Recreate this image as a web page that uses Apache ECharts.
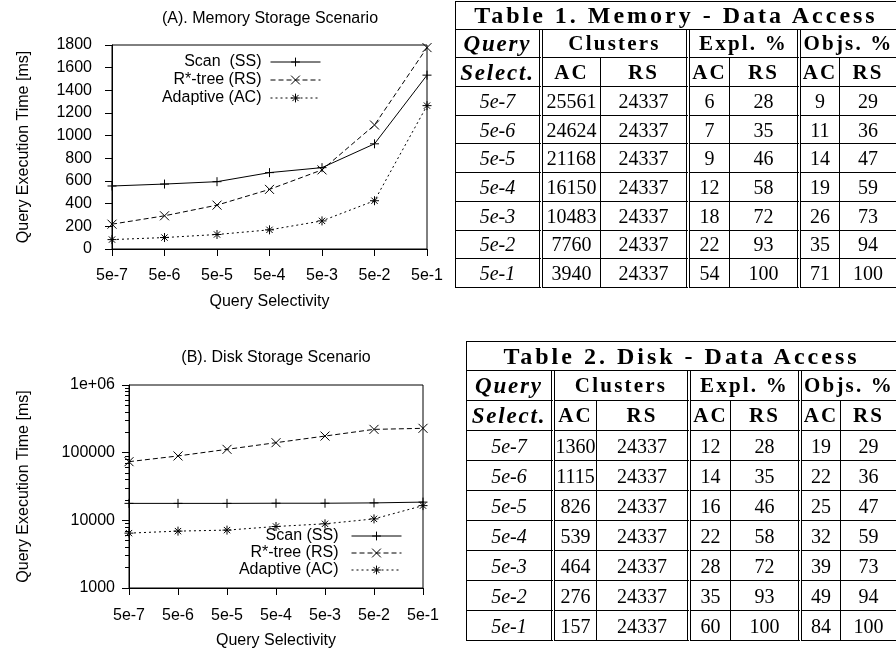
<!DOCTYPE html>
<html><head><meta charset="utf-8">
<script src="https://cdn.jsdelivr.net/npm/echarts/dist/echarts.min.js"></script>
<style>
html,body{margin:0;padding:0;width:896px;height:653px;overflow:hidden;background:#fff;}
#chart{position:absolute;left:0;top:0;width:896px;height:653px;}
table.tab{position:absolute;border-collapse:separate;border-spacing:0;table-layout:fixed;font-family:"Liberation Serif","Times New Roman",serif;font-size:20px;color:#000;}
table.tab td{border-right:1px solid #000;border-bottom:1px solid #000;text-align:center;padding:0;white-space:nowrap;overflow:hidden;box-sizing:border-box;line-height:1;}
table.tab td.first{border-left:1px solid #000;}
table.tab td.dbl{border-right:4px double #000;}
table.tab td.ttl{border-top:1px solid #000;font-weight:bold;font-size:24px;letter-spacing:3px;}
table.tab td.b{font-weight:bold;font-size:21px;letter-spacing:2.2px;}
table.tab td.bi{font-weight:bold;font-style:italic;font-size:23px;letter-spacing:1.8px;}
table.tab td.i{font-style:italic;}
</style>
</head><body>
<div id="chart"></div>
<table class="tab" id="t1" style="left:455px;top:1px;"></table>
<table class="tab" id="t2" style="left:466px;top:341px;"></table>
<script>
// ---- chart data ----
const categories = ['5e-7', '5e-6', '5e-5', '5e-4', '5e-3', '5e-2', '5e-1'];
const memNames = ['Scan  (SS)', 'R*-tree (RS)', 'Adaptive (AC)'];
const diskNames = ['Scan (SS)', 'R*-tree (RS)', 'Adaptive (AC)'];
const memScan = [556, 573, 594, 674, 718, 928, 1534];
const memRS = [219, 293, 387, 526, 698, 1094, 1777];
const memAC = [83, 101, 128, 169, 248, 426, 1265];
const diskScan = [17800, 17800, 17800, 17900, 17900, 18100, 18600];
const diskRS = [73600, 89400, 112000, 140500, 176000, 221000, 229000];
const diskAC = [6470, 6930, 7170, 8110, 8880, 10500, 16500];
const diskMinorTicks = [2000, 3000, 4000, 5000, 6000, 7000, 8000, 9000,
  20000, 30000, 40000, 50000, 60000, 70000, 80000, 90000,
  200000, 300000, 400000, 500000, 600000, 700000, 800000, 900000];

// ---- table data ----
const tableTitles = ['Table 1. Memory - Data Access', 'Table 2. Disk - Data Access'];
const headGroups = ['Clusters', 'Expl. %', 'Objs. %'];
const subHeads = ['AC', 'RS'];
const rowLabels = ['5e-7', '5e-6', '5e-5', '5e-4', '5e-3', '5e-2', '5e-1'];
const memClusAC = [25561, 24624, 21168, 16150, 10483, 7760, 3940];
const memClusRS = [24337, 24337, 24337, 24337, 24337, 24337, 24337];
const memExplAC = [6, 7, 9, 12, 18, 22, 54];
const memExplRS = [28, 35, 46, 58, 72, 93, 100];
const memObjAC = [9, 11, 14, 19, 26, 35, 71];
const memObjRS = [29, 36, 47, 59, 73, 94, 100];
const diskClusAC = [1360, 1115, 826, 539, 464, 276, 157];
const diskClusRS = [24337, 24337, 24337, 24337, 24337, 24337, 24337];
const diskExplAC = [12, 14, 16, 22, 28, 35, 60];
const diskExplRS = [28, 35, 46, 58, 72, 93, 100];
const diskObjAC = [19, 22, 25, 32, 39, 49, 84];
const diskObjRS = [29, 36, 47, 59, 73, 94, 100];

function buildTable(id, title, cols, rowH, colWidths) {
  const t = document.getElementById(id);
  let total = colWidths.reduce((a, b) => a + b, 0);
  t.style.width = total + 'px';
  let h = '<colgroup>' + colWidths.map(w => '<col style="width:' + w + 'px">').join('') + '</colgroup>';
  const tr = '<tr style="height:' + rowH + 'px">';
  h += tr + '<td class="first ttl" colspan="7">' + title + '</td></tr>';
  h += tr + '<td class="first dbl bi">Query</td>' +
    '<td class="b dbl" colspan="2">' + headGroups[0] + '</td>' +
    '<td class="b dbl" colspan="2">' + headGroups[1] + '</td>' +
    '<td class="b" colspan="2">' + headGroups[2] + '</td></tr>';
  h += tr + '<td class="first dbl bi">Select.</td>' +
    '<td class="b">' + subHeads[0] + '</td><td class="b dbl">' + subHeads[1] + '</td>' +
    '<td class="b">' + subHeads[0] + '</td><td class="b dbl">' + subHeads[1] + '</td>' +
    '<td class="b">' + subHeads[0] + '</td><td class="b">' + subHeads[1] + '</td></tr>';
  for (let r = 0; r < rowLabels.length; r++) {
    h += tr + '<td class="first dbl i">' + rowLabels[r] + '</td>' +
      '<td>' + cols[0][r] + '</td><td class="dbl">' + cols[1][r] + '</td>' +
      '<td>' + cols[2][r] + '</td><td class="dbl">' + cols[3][r] + '</td>' +
      '<td>' + cols[4][r] + '</td><td>' + cols[5][r] + '</td></tr>';
  }
  t.innerHTML = h;
}
buildTable('t1', tableTitles[0], [memClusAC, memClusRS, memExplAC, memExplRS, memObjAC, memObjRS], 28.7,
  [88, 58, 89, 40, 71, 39, 57]);
buildTable('t2', tableTitles[1], [diskClusAC, diskClusRS, diskExplAC, diskExplRS, diskObjAC, diskObjRS], 30,
  [89, 42, 94, 40, 71, 39, 56]);

// ---- chart ----
const FONT = '"Liberation Sans", Arial, Helvetica, sans-serif';
const SYM = {
  plus: 'path://M0 5L10 5M5 0L5 10',
  cross: 'path://M0 0L10 10M10 0L0 10',
  star: 'path://M0 5L10 5M5 0L5 10M1.5 1.5L8.5 8.5M8.5 1.5L1.5 8.5'
};
const symList = [SYM.plus, SYM.cross, SYM.star];
const dashList = ['solid', [5, 3], [2, 3]];

function mkSeries(name, data, gi, yi, k) {
  return {
    type: 'line', name: name, data: data, xAxisIndex: gi, yAxisIndex: yi,
    symbol: symList[k], symbolSize: 9, showSymbol: true, showAllSymbol: true,
    lineStyle: { color: '#000', width: 1, type: dashList[k] },
    itemStyle: { color: 'rgba(0,0,0,0)', borderColor: '#000', borderWidth: 1 },
    emphasis: { disabled: true }, silent: true, z: 3
  };
}

const axisTxt = { color: '#000', fontSize: 16, fontFamily: FONT };
function xAxisCfg(gi, margin) {
  return {
    type: 'category', gridIndex: gi, data: categories, boundaryGap: false,
    name: 'Query Selectivity', nameLocation: 'middle', nameGap: 45,
    nameTextStyle: axisTxt,
    axisLine: { show: true, lineStyle: { color: '#000', width: 1 } },
    axisTick: { show: true, length: 7, interval: 0, alignWithLabel: true, lineStyle: { color: '#000' } },
    axisLabel: Object.assign({ margin: margin, interval: 0 }, axisTxt),
    splitLine: { show: false }
  };
}

const legendCfg = [];
function addLegends(names, right, tops, extraGap) {
  names.forEach((n, i) => {
    legendCfg.push({
      data: [n], right: right, top: tops[i], orient: 'vertical', align: 'right',
      itemWidth: 50, itemHeight: 11, padding: 0, selectedMode: false,
      itemStyle: { color: 'rgba(0,0,0,0)', borderColor: '#000', borderWidth: 1 },
      lineStyle: { color: '#000', width: 1 },
      textStyle: { fontSize: 16, fontFamily: FONT, color: '#000', padding: [0, extraGap, 0, 0] }
    });
  });
}
addLegends(memNames, 575, [54, 72, 90], 4);
addLegends(diskNames, 494, [528, 545, 562], 8);

const option = {
  animation: false,
  backgroundColor: '#fff',
  grid: [
    { left: 112, right: 469, top: 45, bottom: 404, show: true, borderColor: '#000', borderWidth: 1, backgroundColor: 'transparent' },
    { left: 129, right: 473, top: 385, bottom: 65, show: true, borderColor: '#000', borderWidth: 1, backgroundColor: 'transparent' }
  ],
  xAxis: [xAxisCfg(0, 19), xAxisCfg(1, 20)],
  yAxis: [
    {
      type: 'value', gridIndex: 0, min: 0, max: 1800, interval: 200,
      name: 'Query Execution Time [ms]', nameLocation: 'middle', nameGap: 80, nameTextStyle: axisTxt,
      axisLine: { show: true, lineStyle: { color: '#000' } },
      axisTick: { show: true, length: 7, lineStyle: { color: '#000' } },
      axisLabel: Object.assign({ margin: 20, formatter: v => String(v) }, axisTxt),
      splitLine: { show: false }
    },
    {
      type: 'log', gridIndex: 1, min: 1000, max: 1000000, logBase: 10,
      name: 'Query Execution Time [ms]', nameLocation: 'middle', nameGap: 97, nameTextStyle: axisTxt,
      axisLine: { show: true, lineStyle: { color: '#000' } },
      axisTick: { show: true, length: 7, lineStyle: { color: '#000' } },
      axisLabel: Object.assign({ margin: 14, formatter: v => (Math.round(v) === 1000000 ? '1e+06' : String(Math.round(v))) }, axisTxt),
      splitLine: { show: false }, minorTick: { show: false }
    },
    {
      type: 'log', gridIndex: 1, min: 1000, max: 1000000, logBase: 10, position: 'left',
      axisLine: { show: false },
      axisTick: { show: true, length: 4, customValues: diskMinorTicks, lineStyle: { color: '#000' } },
      axisLabel: { show: false },
      splitLine: { show: false }
    }
  ],
  legend: legendCfg,
  graphic: [
    { type: 'text', x: 270, y: 19, silent: true,
      style: { text: '(A). Memory Storage Scenario', fill: '#000', font: '16px ' + FONT, align: 'center', verticalAlign: 'middle', textAlign: 'center', textVerticalAlign: 'middle' } },
    { type: 'text', x: 276, y: 358, silent: true,
      style: { text: '(B). Disk Storage Scenario', fill: '#000', font: '16px ' + FONT, align: 'center', verticalAlign: 'middle', textAlign: 'center', textVerticalAlign: 'middle' } }
  ],
  series: [
    mkSeries(memNames[0], memScan, 0, 0, 0),
    mkSeries(memNames[1], memRS, 0, 0, 1),
    mkSeries(memNames[2], memAC, 0, 0, 2),
    mkSeries(diskNames[0], diskScan, 1, 1, 0),
    mkSeries(diskNames[1], diskRS, 1, 1, 1),
    mkSeries(diskNames[2], diskAC, 1, 1, 2)
  ]
};
const chart = echarts.init(document.getElementById('chart'), null, { renderer: 'canvas' });
chart.setOption(option);
</script>
</body></html>
